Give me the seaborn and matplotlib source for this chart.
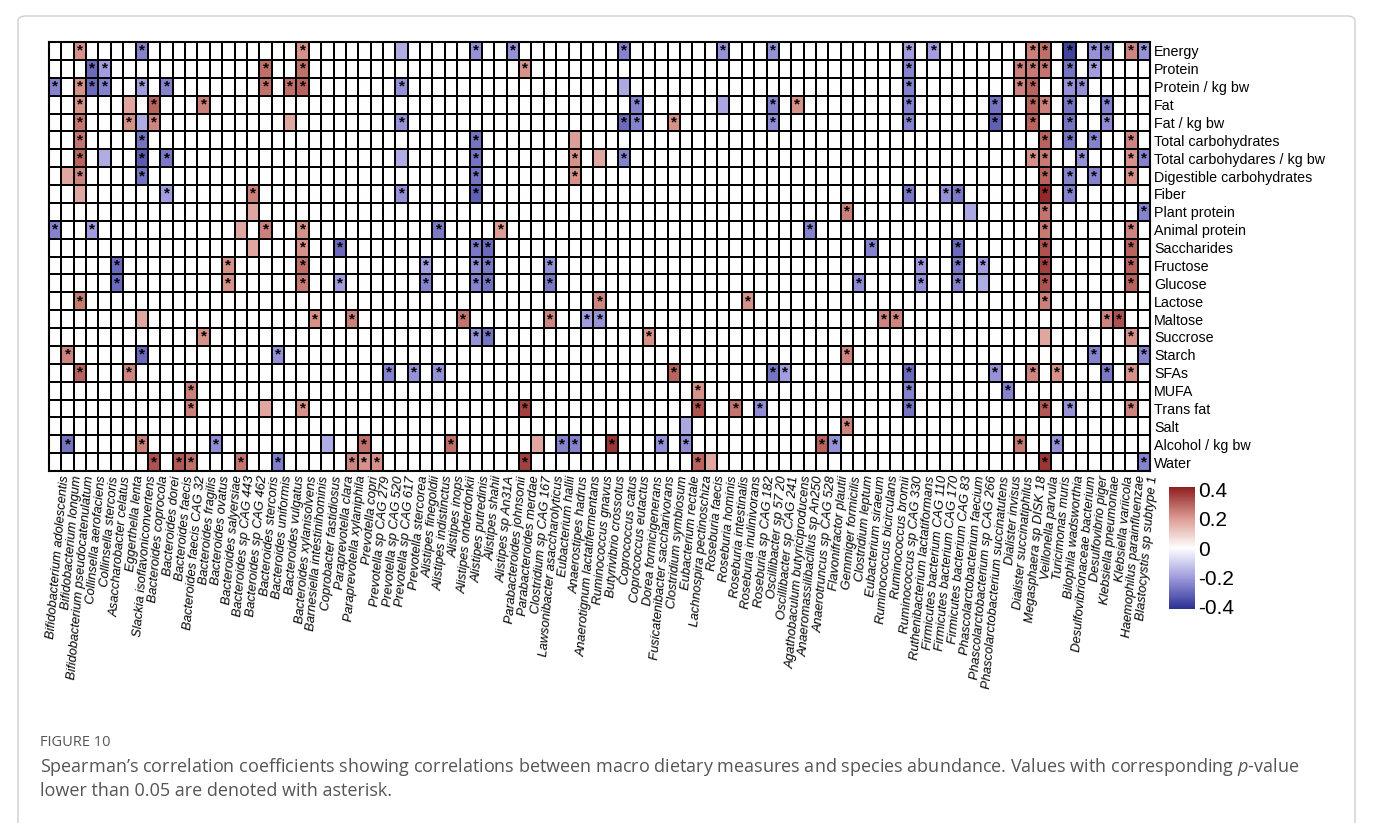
import numpy as np
import pandas as pd
import matplotlib
matplotlib.use("Agg")
import matplotlib.pyplot as plt
import matplotlib.transforms as mtransforms
import seaborn as sns
from matplotlib.colors import LinearSegmentedColormap
from matplotlib.patches import FancyBboxPatch

# dietary measures (rows) and species (columns)
nutrients = ["Energy", "Protein", "Protein / kg bw", "Fat", "Fat / kg bw",
             "Total carbohydrates", "Total carbohydares / kg bw",
             "Digestible carbohydrates", "Fiber", "Plant protein",
             "Animal protein", "Saccharides", "Fructose", "Glucose", "Lactose",
             "Maltose", "Succrose", "Starch", "SFAs", "MUFA", "Trans fat",
             "Salt", "Alcohol / kg bw", "Water"]

species = ["Bifidobacterium adolescentis", "Bifidobacterium longum",
           "Bifidobacterium pseudocatenulatum", "Collinsella aerofaciens",
           "Collinsella stercoris", "Asaccharobacter celatus", "Eggerthella lenta",
           "Slackia isoflavoniconvertens", "Bacteroides coprocola", "Bacteroides dorei",
           "Bacteroides faecis", "Bacteroides faecis CAG 32", "Bacteroides fragilis",
           "Bacteroides ovatus", "Bacteroides salyersiae", "Bacteroides sp CAG 443",
           "Bacteroides sp CAG 462", "Bacteroides stercoris", "Bacteroides uniformis",
           "Bacteroides vulgatus", "Bacteroides xylanisolvens",
           "Barnesiella intestinihominis", "Coprobacter fastidiosus",
           "Paraprevotella clara", "Paraprevotella xylaniphila", "Prevotella copri",
           "Prevotella sp CAG 279", "Prevotella sp CAG 520", "Prevotella sp CAG 617",
           "Prevotella stercorea", "Alistipes finegoldii", "Alistipes indistinctus",
           "Alistipes inops", "Alistipes onderdonkii", "Alistipes putredinis",
           "Alistipes shahii", "Alistipes sp An31A", "Parabacteroides johnsonii",
           "Parabacteroides merdae", "Clostridium sp CAG 167",
           "Lawsonibacter asaccharolyticus", "Eubacterium hallii",
           "Anaerostipes hadrus", "Anaerotignum lactatifermentans",
           "Ruminococcus gnavus", "Butyrivibrio crossotus", "Coprococcus catus",
           "Coprococcus eutactus", "Dorea formicigenerans",
           "Fusicatenibacter saccharivorans", "Clostridium symbiosum",
           "Eubacterium rectale", "Lachnospira pectinoschiza", "Roseburia faecis",
           "Roseburia hominis", "Roseburia intestinalis", "Roseburia inulinivorans",
           "Roseburia sp CAG 182", "Oscillibacter sp 57 20", "Oscillibacter sp CAG 241",
           "Agathobaculum butyriciproducens", "Anaeromassilibacillus sp An250",
           "Anaerotruncus sp CAG 528", "Flavonifractor plautii", "Gemmiger formicilis",
           "Clostridium leptum", "Eubacterium siraeum", "Ruminococcus bicirculans",
           "Ruminococcus bromii", "Ruminococcus sp CAG 330",
           "Ruthenibacterium lactatiformans", "Firmicutes bacterium CAG 110",
           "Firmicutes bacterium CAG 170", "Firmicutes bacterium CAG 83",
           "Phascolarctobacterium faecium", "Phascolarctobacterium sp CAG 266",
           "Phascolarctobacterium succinatutens", "Dialister invisus",
           "Dialister succinatiphilus", "Megasphaera sp DISK 18", "Veillonella parvula",
           "Turicimonas muris", "Bilophila wadsworthia",
           "Desulfovibrionaceae bacterium", "Desulfovibrio piger",
           "Klebsiella pneumoniae", "Klebsiella variicola",
           "Haemophilus parainfluenzae", "Blastocystis sp subtype 1"]

# non-zero cells per row: (species index, rho, p < 0.05)
energy = [(2, .22, 1), (7, -.25, 1), (20, .22, 1), (28, -.17, 0), (34, -.22, 1),
          (37, -.22, 1), (46, -.25, 1), (54, -.22, 1), (58, -.22, 1), (69, -.2, 1),
          (71, -.2, 1), (79, .25, 1), (80, .28, 1), (82, -.38, 1), (84, -.22, 1),
          (85, -.25, 1), (87, .24, 1), (88, -.22, 1)]
protein = [(3, -.3, 1), (4, -.2, 1), (17, .28, 1), (20, .28, 1), (38, .22, 1),
           (69, -.25, 1), (78, .25, 1), (79, .26, 1), (80, .27, 1), (82, -.28, 1),
           (84, -.2, 1)]
protein_kg = [(0, -.25, 1), (2, .22, 1), (3, -.3, 1), (4, -.25, 1), (7, -.2, 1),
              (9, -.25, 1), (17, .28, 1), (19, .28, 1), (20, .3, 1), (28, -.22, 1),
              (46, -.18, 0), (69, -.25, 1), (78, .24, 1), (79, .3, 1), (82, -.22, 1),
              (83, -.22, 1)]
fat = [(2, .22, 1), (6, .18, 0), (8, .3, 1), (12, .25, 1), (47, -.25, 1),
       (54, -.18, 0), (58, -.25, 1), (60, .22, 1), (69, -.25, 1), (76, -.28, 1),
       (79, .3, 1), (80, .25, 1), (82, -.28, 1), (85, -.25, 1)]
fat_kg = [(2, .27, 1), (6, .22, 1), (7, -.17, 0), (8, .24, 1), (19, .18, 0),
          (28, -.22, 1), (46, -.3, 1), (47, -.25, 1), (50, .22, 1), (58, -.23, 1),
          (69, -.25, 1), (76, -.32, 1), (79, .3, 1), (82, -.28, 1), (85, -.23, 1)]
total_carb = [(2, .27, 1), (7, -.28, 1), (34, -.28, 1), (42, .2, 0), (80, .3, 1),
              (82, -.28, 1), (84, -.25, 1), (87, .24, 1)]
total_carb_kg = [(2, .3, 1), (4, -.17, 0), (7, -.33, 1), (9, -.27, 1), (28, -.17, 0),
                 (34, -.28, 1), (42, .22, 1), (44, .18, 0), (46, -.25, 1), (79, .22, 1),
                 (80, .26, 1), (83, -.22, 1), (87, .22, 1), (88, -.25, 1)]
digestible_carb = [(1, .18, 0), (2, .24, 1), (7, -.28, 1), (34, -.28, 1), (42, .22, 1),
                   (80, .3, 1), (82, -.25, 1), (84, -.25, 1), (87, .22, 1)]
fiber = [(2, .18, 0), (9, -.2, 1), (16, .25, 1), (28, -.22, 1), (34, -.32, 1),
         (69, -.27, 1), (72, -.22, 1), (73, -.27, 1), (80, .4, 1), (82, -.25, 1)]
plant_protein = [(16, .18, 0), (64, .25, 1), (74, -.18, 0), (80, .27, 1), (88, -.25, 1)]
animal_protein = [(0, -.25, 1), (3, -.2, 1), (15, .18, 0), (17, .25, 1), (20, .22, 1),
                  (31, -.27, 1), (36, .2, 1), (61, -.25, 1), (80, .26, 1), (87, .24, 1)]
saccharides = [(16, .18, 0), (20, .22, 1), (23, -.3, 1), (34, -.27, 1), (35, -.3, 1),
               (66, -.25, 1), (73, -.3, 1), (80, .33, 1), (87, .3, 1)]
fructose = [(5, -.3, 1), (14, .22, 1), (20, .28, 1), (30, -.2, 1), (34, -.23, 1),
            (35, -.27, 1), (40, -.22, 1), (70, -.2, 1), (73, -.27, 1), (75, -.2, 1),
            (80, .36, 1), (87, .3, 1)]
glucose = [(5, -.3, 1), (14, .22, 1), (20, .26, 1), (23, -.2, 1), (30, -.25, 1),
           (34, -.25, 1), (35, -.28, 1), (40, -.27, 1), (65, -.23, 1), (70, -.22, 1),
           (73, -.25, 1), (75, -.17, 0), (80, .33, 1), (87, .3, 1)]
lactose = [(2, .26, 1), (44, .24, 1), (56, .22, 1), (80, .25, 1)]
maltose = [(7, .18, 0), (21, .22, 1), (24, .25, 1), (33, .27, 1), (40, .24, 1),
           (43, -.2, 1), (44, -.22, 1), (67, .24, 1), (68, .24, 1), (85, .24, 1),
           (86, .33, 1)]
succrose = [(12, .22, 1), (34, -.22, 1), (35, -.28, 1), (48, .22, 1), (80, .18, 0),
            (87, .22, 1)]
starch = [(1, .24, 1), (7, -.3, 1), (18, -.22, 1), (64, .24, 1), (84, -.25, 1),
          (88, -.25, 1)]
sfas = [(2, .3, 1), (6, .24, 1), (27, -.25, 1), (29, -.22, 1), (31, -.22, 1),
        (50, .3, 1), (58, -.28, 1), (59, -.2, 1), (69, -.3, 1), (76, -.22, 1),
        (79, .24, 1), (81, .22, 1), (85, -.27, 1), (87, .22, 1)]
mufa = [(11, .25, 1), (52, .22, 1), (69, -.25, 1), (77, -.25, 1)]
trans_fat = [(11, .25, 1), (17, .18, 0), (20, .22, 1), (38, .36, 1), (52, .33, 1),
             (55, .27, 1), (57, -.23, 1), (69, -.28, 1), (80, .32, 1), (82, -.22, 1),
             (87, .24, 1)]
salt = [(51, -.18, 0), (64, .24, 1)]
alcohol_kg = [(1, -.28, 1), (7, .25, 1), (13, -.23, 1), (22, -.17, 0), (25, .28, 1),
              (32, .28, 1), (39, .18, 0), (41, -.25, 1), (42, -.25, 1), (45, .38, 1),
              (49, -.22, 1), (51, -.23, 1), (62, .3, 1), (63, -.22, 1), (78, .26, 1),
              (81, -.22, 1)]
water = [(8, .33, 1), (10, .32, 1), (11, .28, 1), (15, .27, 1), (18, -.26, 1),
         (24, .24, 1), (25, .22, 1), (26, .22, 1), (38, .36, 1), (52, .3, 1),
         (53, .18, 0), (80, .38, 1), (88, -.25, 1)]

rows = [energy, protein, protein_kg, fat, fat_kg, total_carb, total_carb_kg,
        digestible_carb, fiber, plant_protein, animal_protein, saccharides,
        fructose, glucose, lactose, maltose, succrose, starch, sfas, mufa,
        trans_fat, salt, alcohol_kg, water]

rho = np.zeros((len(nutrients), len(species)))
stars = np.full(rho.shape, "", dtype=object)
for i, cells in enumerate(rows):
    for j, r, s in cells:
        rho[i, j] = r
        if s:
            stars[i, j] = "*"
df = pd.DataFrame(rho, index=nutrients, columns=species)

sns.set_theme(style="white")
plt.rcParams["font.family"] = ["Liberation Sans", "DejaVu Sans"]
plt.rcParams["mathtext.fontset"] = "custom"
plt.rcParams["mathtext.it"] = "Open Sans:italic"
plt.rcParams["mathtext.rm"] = "Open Sans"

cmap = LinearSegmentedColormap.from_list(
    "corr", ["#2b2f92", "#9c98dc", "#ffffff", "#da9890", "#8e1f1f"])

W, H = 1373, 823
fig = plt.figure(figsize=(W / 100, H / 100), dpi=100)
ax = fig.add_axes([49 / W, 1 - 471 / H, (1150 - 49) / W, (471 - 42) / H])
cax = fig.add_axes([1169 / W, 1 - 609 / H, 26 / W, 122 / H])

sns.heatmap(df, ax=ax, cbar_ax=cax, cmap=cmap, vmin=-0.42, vmax=0.42,
            annot=stars, fmt="",
            annot_kws=dict(color="black", fontsize=11, fontweight="bold"),
            linewidths=1.3, linecolor="black",
            xticklabels=True, yticklabels=True,
            cbar_kws=dict(ticks=[-0.4, -0.2, 0, 0.2, 0.4]))

for sp in ax.spines.values():
    sp.set_visible(True)
    sp.set_linewidth(1.5)
    sp.set_color("black")

ax.yaxis.tick_right()
ax.set_yticklabels(nutrients, rotation=0, fontsize=10.3, color="black")
ax.set_xticklabels(species, rotation=85, ha="right", rotation_mode="anchor",
                   fontsize=9.3, fontstyle="italic", color="black")
ax.tick_params(axis="both", length=0, pad=3)
ax.set_xlabel("")
ax.set_ylabel("")
shift = mtransforms.ScaledTranslation(4 / 100, 0, fig.dpi_scale_trans)
for lab in ax.get_xticklabels():
    lab.set_transform(lab.get_transform() + shift)

cbar = ax.collections[0].colorbar
cbar.outline.set_visible(False)
cbar.set_ticklabels(["-0.4", "-0.2", "0", "0.2", "0.4"])
cax.tick_params(axis="y", direction="in", length=6, width=1.2, color="white",
                left=True, right=True, labelsize=15, labelcolor="black", pad=2)

# caption and page frame
fig.patches.append(FancyBboxPatch((18 / W, -0.05), (1355 - 18) / W, 1 - 16 / H + 0.05,
                                  boxstyle="round,pad=0,rounding_size=0.006",
                                  transform=fig.transFigure, fill=False,
                                  edgecolor="#cfcfcf", linewidth=1))
fig.text(40 / W, 1 - 742 / H, "FIGURE 10", family="Open Sans", fontsize=10.5,
         color="#555555", va="center")
fig.text(40 / W, 1 - 767 / H,
         "Spearman\u2019s correlation coefficients showing correlations between macro "
         "dietary measures and species abundance. Values with corresponding $p$-value",
         family="Open Sans", fontsize=13, color="#555555", va="center")
fig.text(40 / W, 1 - 791 / H, "lower than 0.05 are denoted with asterisk.",
         family="Open Sans", fontsize=13, color="#555555", va="center")

fig.savefig("out.png", dpi=100)
